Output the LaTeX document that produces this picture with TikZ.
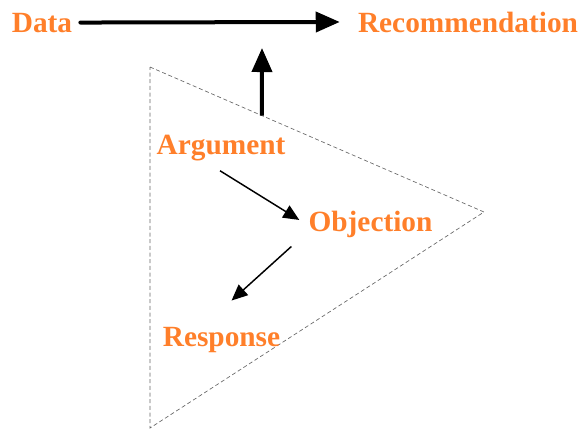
\documentclass[tikz,border=0pt]{standalone}
\usepackage{fontspec}
\setmainfont{Liberation Serif}
\usetikzlibrary{arrows.meta}
\usetikzlibrary{calc}

\definecolor{argorange}{RGB}{255,127,42}

\tikzset{
	term/.style={text=argorange, font=\fontsize{22}{26}\selectfont\bfseries,
		inner sep=0pt, anchor=base},
	bigarrow/.style={line width=3pt, line cap=round,
		-{Triangle[length=18pt,width=15pt]}},
	smallarrow/.style={line width=1.1pt, -{Triangle[length=12pt,width=10.5pt]}},
	frame/.style={black!60, line width=0.5pt, dash pattern=on 3pt off 2pt}
}

\begin{document}
\begin{tikzpicture}[x=0.75pt, y=-0.75pt]
		\useasboundingbox (0,0) rectangle (580,430);
		%% The Triangle
		\coordinate (ta) at (150,67);
		\coordinate (tb) at (484,212);
		\coordinate (tc) at (150,428);
		\draw[frame] (ta) -- (tb) -- (tc) -- cycle;
		%% The Terms
		\node[term] (data) at (42,32) {Data};
		\node[term] (rec) at (468,32) {Recommendation};
		\node[term] (arg) at (221,154) {Argument};
		\node[term] (obj) at (370.5,231) {Objection};
		\node[term] (resp) at (221.5,346) {Response};
		%% The Arrows
		\draw[bigarrow] (data.east) ++(8,0) coordinate (dstart)
			-- ($(rec.west)+(-18,0)$) coordinate (dend);
		\coordinate (lift) at ($(ta)!0.335!(tb)$);
		\coordinate (claim) at (262,48);
		\draw[bigarrow, line cap=butt] (lift) -- (claim);
		% argument down to the objection, then back to the response
		\draw[smallarrow] ($(arg.south)+(-1,10)$) -- ($(obj.west)+(-9,-4)$);
		\draw[smallarrow] ($(obj.south west)+(-17,9)$) -- ($(resp.north west)+(69,-26)$);
	\end{tikzpicture}
\end{document}
